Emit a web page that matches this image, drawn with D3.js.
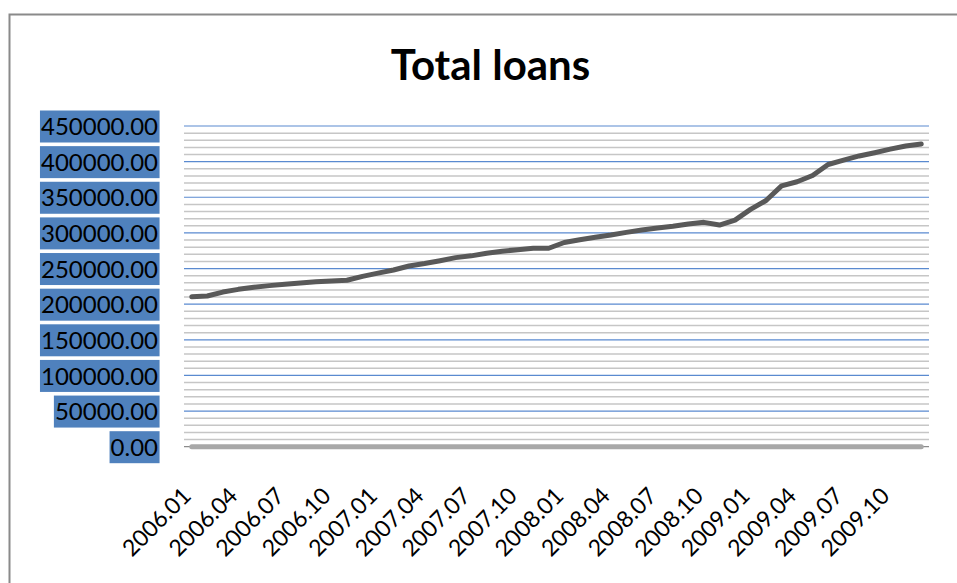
<!DOCTYPE html>
<html>
<head>
<meta charset="utf-8">
<script src="https://cdn.jsdelivr.net/npm/d3@7"></script>
<style>
  html, body { margin: 0; padding: 0; background: #ffffff; }
  svg { display: block; }
</style>
</head>
<body>
<svg id="chart" width="957" height="583"></svg>
<script>
// ---- data ----
const categories = [
  "2006.01","2006.02","2006.03","2006.04","2006.05","2006.06","2006.07","2006.08","2006.09","2006.10","2006.11","2006.12",
  "2007.01","2007.02","2007.03","2007.04","2007.05","2007.06","2007.07","2007.08","2007.09","2007.10","2007.11","2007.12",
  "2008.01","2008.02","2008.03","2008.04","2008.05","2008.06","2008.07","2008.08","2008.09","2008.10","2008.11","2008.12",
  "2009.01","2009.02","2009.03","2009.04","2009.05","2009.06","2009.07","2009.08","2009.09","2009.10","2009.11","2009.12"
];
const totalLoans = [
  210400, 211500, 217000, 220800, 223800, 226000, 227900, 229700, 231300, 232500, 233500, 239000,
  243500, 248000, 253500, 257000, 261000, 265300, 267800, 271500, 274300, 276500, 278400, 278500,
  286500, 290500, 293800, 297000, 300700, 304000, 306800, 309300, 312500, 314800, 311000, 318000,
  333000, 345500, 366000, 371800, 380500, 396000, 402000, 408000, 412500, 417500, 422000, 424700
];
const secondSeries = [
  0,0,0,0,0,0,0,0,0,0,0,0, 0,0,0,0,0,0,0,0,0,0,0,0,
  0,0,0,0,0,0,0,0,0,0,0,0, 0,0,0,0,0,0,0,0,0,0,0,0
];
const xTickLabels = ["2006.01","2006.04","2006.07","2006.10","2007.01","2007.04","2007.07","2007.10",
                     "2008.01","2008.04","2008.07","2008.10","2009.01","2009.04","2009.07","2009.10"];
const yTicks = [0, 50000, 100000, 150000, 200000, 250000, 300000, 350000, 400000, 450000];
const yMinorStep = 10000;
const title = "Total loans";

// ---- drawing ----
const svg = d3.select("#chart");
const pLeft = 184, pRight = 929, pTop = 126, pBottom = 446.7;

const x = d3.scaleBand().domain(categories).range([pLeft, pRight]);
const cx = c => x(c) + x.bandwidth() / 2;
const y = d3.scaleLinear().domain([0, 450000]).range([pBottom, pTop]);

// outer frame (right/bottom edges fall outside the picture)
svg.append("rect")
  .attr("x", 9.5).attr("y", 14.5).attr("width", 980).attr("height", 600)
  .attr("fill", "none").attr("stroke", "#8a8a8a").attr("stroke-width", 2);

// title
svg.append("text")
  .attr("x", 490.5).attr("y", 80)
  .attr("text-anchor", "middle")
  .attr("font-family", "Lato, 'Open Sans', sans-serif")
  .attr("font-weight", "bold")
  .attr("font-size", 42)
  .attr("fill", "#000")
  .text(title);

// minor gridlines
const minorVals = d3.range(0, 450000 + 1, yMinorStep).filter(v => v % 50000 !== 0);
svg.append("g").selectAll("line").data(minorVals).join("line")
  .attr("x1", pLeft).attr("x2", pRight)
  .attr("y1", d => y(d)).attr("y2", d => y(d))
  .attr("stroke", "#c6c6c6").attr("stroke-width", 1.5);

// major gridlines
svg.append("g").selectAll("line").data(yTicks.filter(v => v > 0)).join("line")
  .attr("x1", pLeft).attr("x2", pRight)
  .attr("y1", d => y(d)).attr("y2", d => y(d))
  .attr("stroke", "#5a8ad0").attr("stroke-width", 1.2);

// axis line at zero
svg.append("line")
  .attr("x1", pLeft).attr("x2", pRight)
  .attr("y1", y(0)).attr("y2", y(0))
  .attr("stroke", "#8c8c8c").attr("stroke-width", 1.2);

// y axis labels with blue boxes
const yAxis = d3.axisLeft(y).tickValues(yTicks).tickFormat(d3.format(".2f")).tickSize(0).tickPadding(0);
const yg = svg.append("g").attr("transform", `translate(158,0)`).call(yAxis);
yg.select(".domain").remove();
yg.selectAll(".tick text")
  .attr("font-family", "Lato, 'Open Sans', sans-serif")
  .attr("font-size", 24)
  .attr("fill", "#000")
  .attr("dy", "0.36em");
yg.selectAll(".tick").each(function() {
  const t = d3.select(this).select("text");
  const bb = t.node().getBBox();
  d3.select(this).insert("rect", "text")
    .attr("x", bb.x - 1).attr("width", bb.width + 2.5)
    .attr("y", -16).attr("height", 32)
    .attr("fill", "#4f81bd");
});

// x axis labels
const xAxis = d3.axisBottom(x).tickValues(xTickLabels).tickSize(0).tickPadding(0);
const xg = svg.append("g").attr("transform", `translate(0,${pBottom})`).call(xAxis);
xg.select(".domain").remove();
xg.selectAll(".tick text")
  .attr("font-family", "Lato, 'Open Sans', sans-serif")
  .attr("font-size", 23)
  .attr("fill", "#000")
  .attr("text-anchor", "end")
  .attr("y", 0)
  .attr("dy", "0.35em")
  .attr("transform", "translate(-5,45) rotate(-45)");

// zero series (thick light gray)
const line = d3.line().x((d, i) => cx(categories[i])).y(d => y(d));
svg.append("path")
  .datum(secondSeries)
  .attr("d", line)
  .attr("fill", "none")
  .attr("stroke", "#a8a8a8")
  .attr("stroke-width", 5)
  .attr("stroke-linecap", "round");

// main series
svg.append("path")
  .datum(totalLoans)
  .attr("d", line)
  .attr("fill", "none")
  .attr("stroke", "#595959")
  .attr("stroke-width", 5)
  .attr("stroke-linejoin", "round")
  .attr("stroke-linecap", "round");
</script>
</body>
</html>
